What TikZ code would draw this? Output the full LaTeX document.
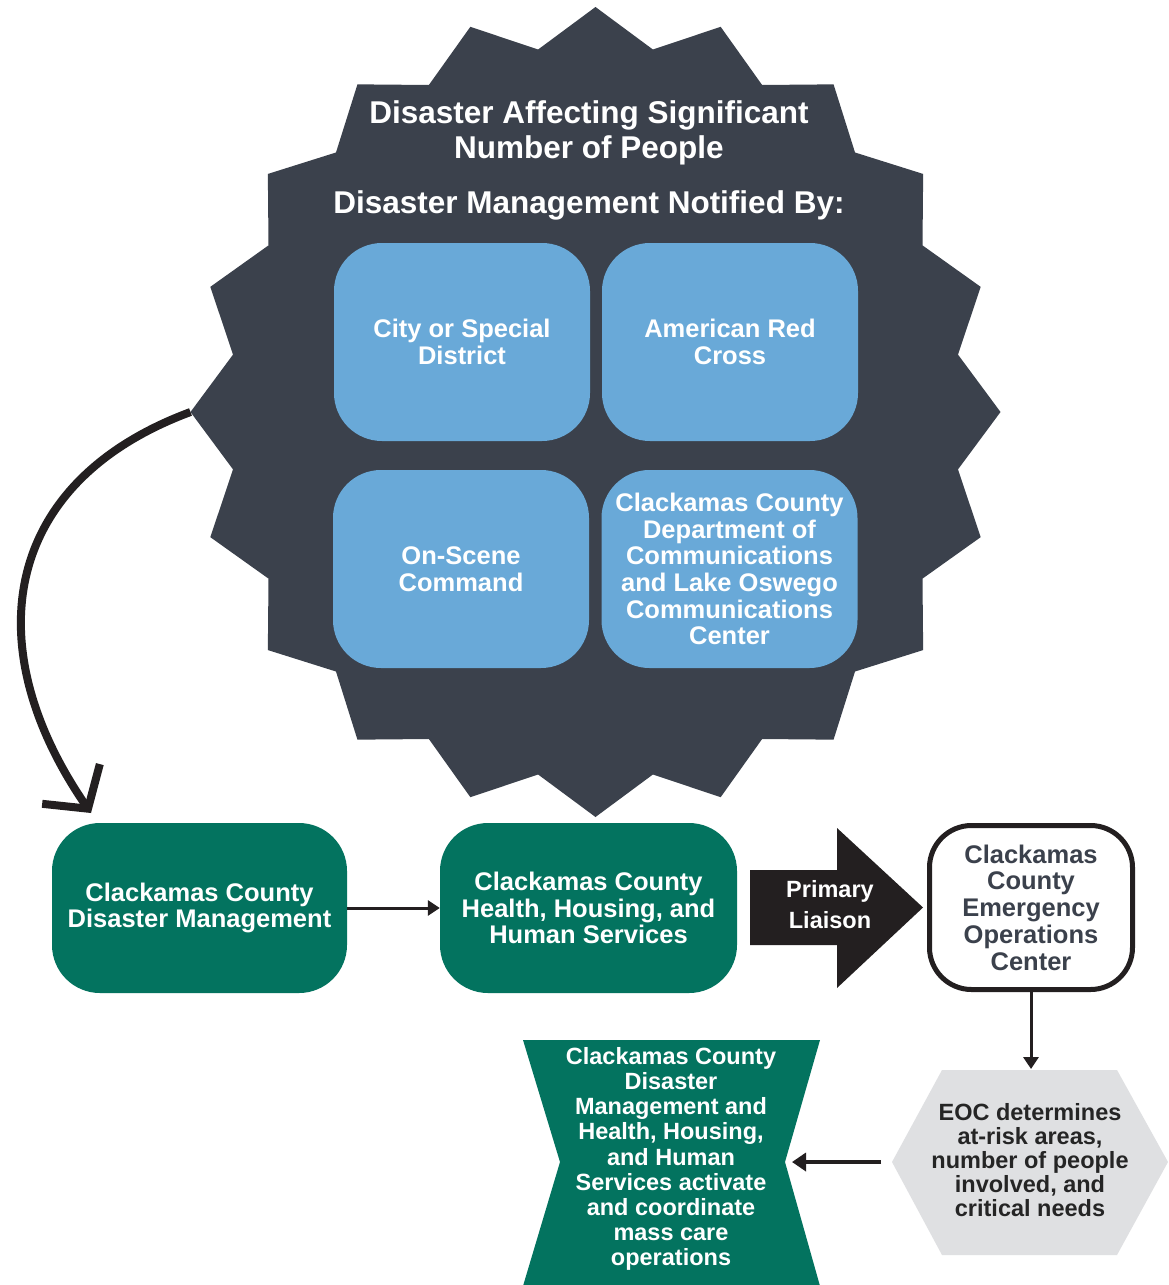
\documentclass[tikz,border=0pt]{standalone}
\usepackage{fontspec}
\setmainfont{Liberation Sans}
\usetikzlibrary{arrows.meta}
\definecolor{starfill}{HTML}{3B414C}
\definecolor{boxblue}{HTML}{69A9D8}
\definecolor{ccgreen}{HTML}{03735F}
\definecolor{hexgray}{HTML}{DFE0E2}
\definecolor{inkblack}{HTML}{231F20}
\definecolor{eoctext}{HTML}{3B414C}
\definecolor{hextext}{HTML}{252525}

\begin{document}
\begin{tikzpicture}[x=1pt,y=-1pt,
  titletext/.style={text=white, align=center, inner sep=0pt,
    font=\fontsize{31.5}{35}\selectfont\bfseries},
  bluebox/.style={fill=boxblue, rounded corners=48pt, minimum width=256pt,
    minimum height=198pt, text=white, align=center, inner sep=0pt,
    font=\fontsize{25.5}{26.6}\selectfont\bfseries},
  greenbox/.style={fill=ccgreen, rounded corners=48pt, minimum height=170pt,
    text=white, align=center, inner sep=0pt,
    font=\fontsize{25.5}{26.6}\selectfont\bfseries},
  eocbox/.style={draw=inkblack, line width=5pt, fill=white, rounded corners=42pt,
    minimum width=203pt, minimum height=164pt, text=eoctext, align=center,
    inner sep=0pt, font=\fontsize{25.5}{26.7}\selectfont\bfseries},
  smallarrow/.style={draw=inkblack, line width=3pt,
    -{Triangle[length=12pt,width=15pt]}},
  bigarrowtext/.style={text=white, align=center, inner sep=0pt,
    font=\fontsize{23.5}{31}\selectfont\bfseries}]

\useasboundingbox (0,0) rectangle (1168,1285);
\fill[white] (0,0) rectangle (1168,1285);

% twenty-point starburst
\fill[starfill] ([shift={(595.5,412)}]90:405)
  \foreach \i [evaluate=\i as \r using {isodd(\i) ? 367 : 405}] in {1,...,39}
    { -- ([shift={(595.5,412)}]90+\i*9:\r) } -- cycle;
\coordinate (starleft) at (190.5,412);

% headings inside the starburst
\node[titletext] (title) at (589,133) {Disaster Affecting Significant\\Number of People};
\node[titletext] (notified) at (589,205) {Disaster Management Notified By:};

% notifying parties
\node[bluebox] (city)   at (462,342)   {City or Special\\District};
\node[bluebox] (redx)   at (730,342)   {American Red\\Cross};
\node[bluebox] (scene)  at (461,569)   {On-Scene\\Command};
\node[bluebox] (comms)  at (729.5,569) {Clackamas County\\Department of\\Communications\\and Lake Oswego\\Communications\\Center};

% main row
\node[greenbox, minimum width=295pt] (cdm) at (199.5,908)
  {Clackamas County\\Disaster Management};
\node[greenbox, minimum width=297pt] (hhs) at (588.5,908)
  {Clackamas County\\Health, Housing, and\\Human Services};
\node[eocbox] (eoc) at (1031,907.5)
  {Clackamas\\County\\Emergency\\Operations\\Center};

% block arrow: primary liaison
\fill[inkblack] (750,870) -- (837,870) -- (837,828) -- (923,907.5)
  -- (837,988) -- (837,945) -- (750,945) -- cycle;
\node[bigarrowtext] (liaison) at (830,905) {Primary\\Liaison};

% hexagon: EOC assessment
\fill[hexgray] (892,1162) -- (942,1070) -- (1117,1070) -- (1168,1162)
  -- (1117,1255) -- (942,1255) -- cycle;
\coordinate (hextop) at (1031,1069);
\coordinate (hexleft) at (881,1162);
\node[text=hextext, align=center, inner sep=0pt,
  font=\fontsize{23.5}{24}\selectfont\bfseries] (assess) at (1030,1160)
  {EOC determines\\at-risk areas,\\number of people\\involved, and\\critical needs};

% hourglass: mass care activation
\fill[ccgreen] (523,1040) -- (820,1040) -- (785,1162) -- (820,1286)
  -- (523,1286) -- (560,1162) -- cycle;
\coordinate (hgwaist) at (792,1162);
\node[text=white, align=center, inner sep=0pt,
  font=\fontsize{23.5}{25.1}\selectfont\bfseries] (masscare) at (671,1159)
  {Clackamas County\\Disaster\\Management and\\Health, Housing,\\and Human\\Services activate\\and coordinate\\mass care\\operations};

% connectors
\coordinate (curveend) at (91,813);
\draw[inkblack, line width=8pt, -{Straight Barb[length=30pt,width=70pt]}]
  (starleft) .. controls (2,482) and (-24,646) .. (curveend);
\draw[smallarrow] (cdm.east) -- (hhs.west);
\draw[smallarrow] (eoc.south) -- (hextop);
\draw[draw=inkblack, line width=4.5pt, -{Triangle[length=14pt,width=18pt]}]
  (hexleft) -- (hgwaist);

\end{tikzpicture}
\end{document}
